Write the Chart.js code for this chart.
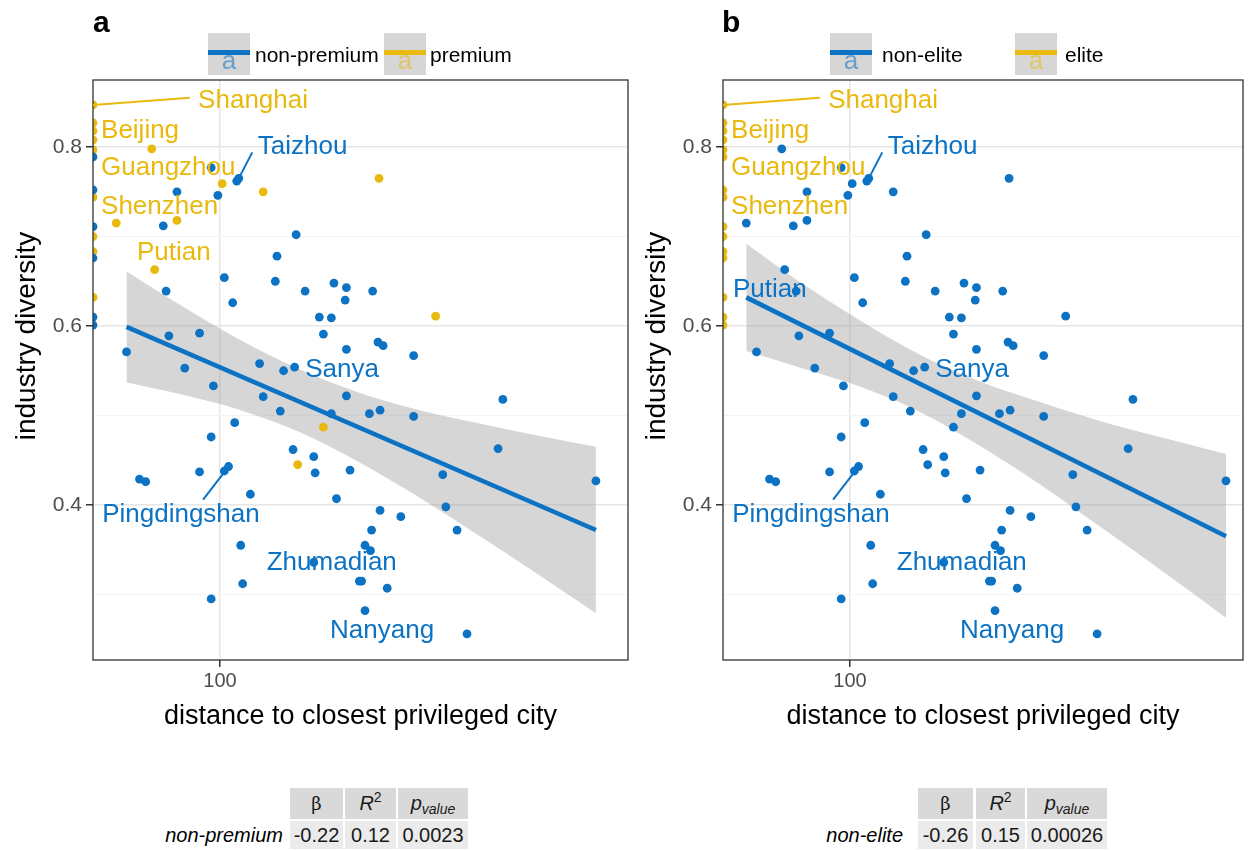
<!DOCTYPE html>
<html>
<head>
<meta charset="utf-8">
<script src="https://cdn.jsdelivr.net/npm/chart.js@4/dist/chart.umd.min.js"></script>
<style>
  body { margin: 0; background: #fff; font-family: "Liberation Sans", Arial, sans-serif; }
  #page { position: relative; width: 1248px; height: 850px; overflow: hidden; }
  canvas { position: absolute; top: 0; }
  .tag { position: absolute; top: 7px; font-weight: bold; font-size: 30px; line-height: 30px; }
  .key { position: absolute; top: 33px; width: 42px; height: 42px; background: #d6d6d6; overflow: hidden; }
  .key .ln { position: absolute; left: 0; right: 0; top: 17px; height: 5px; }
  .key .lt { position: absolute; left: 0; right: 0; top: 14px; text-align: center; font-size: 26px; line-height: 26px; opacity: 0.55; }
  .ktext { position: absolute; top: 43px; font-size: 21px; line-height: 24px; }
  .cell { position: absolute; text-align: center; font-size: 20px; color: #1a1a1a; }
  .cell sup, .cell sub { line-height: 0; font-size: 14px; }
  .cell sup { vertical-align: 8px; }
  .cell sub { vertical-align: -4px; }
  .hd { top: 788px; height: 31px; line-height: 31px; background: #d9d9d9; }
  .rw { top: 821px; height: 28px; line-height: 28px; background: #ebebeb; }
  .rl { position: absolute; top: 821px; height: 28px; line-height: 28px; font-size: 20px; font-style: italic; text-align: right; }
</style>
</head>
<body>
<div id="page">
  <canvas id="chartA" width="640" height="760" style="left:0"></canvas>
  <canvas id="chartB" width="618" height="760" style="left:630px"></canvas>
  <div class="tag" style="left:93px">a</div>
  <div class="tag" style="left:722px">b</div>
</div>
<script>
// ---------- data ----------
// distance to closest privileged city (km); 0 = the privileged city itself
const cityDistance = [
  0, 0, 0, 0, 0, 0, 0, 0, 0, 0, 0, 0, 0, 0, 0,
  73, 96, 101, 108, 109, 208, 82, 99, 122, 62, 77, 82, 142, 130, 74, 102, 129, 78, 148, 169,
  179, 202, 178, 106, 158, 167, 270, 79, 91, 161, 65, 207, 212, 179, 244, 85, 120, 134, 141, 97,
  179, 368, 122, 132, 167, 199, 209, 244, 161, 107, 96, 140, 360, 154, 143, 155, 182, 279, 565, 69,
  71, 91, 102, 104, 115, 171, 209, 230, 283, 298, 201, 110, 195, 200, 154, 111, 190, 192, 216, 96,
  195, 312
];
const cityDiversity = [
  0.847, 0.827, 0.818, 0.808, 0.797, 0.789, 0.752, 0.744, 0.711, 0.700, 0.683, 0.676, 0.632, 0.610, 0.601,
  0.798, 0.777, 0.759, 0.762, 0.765, 0.765, 0.750, 0.746, 0.750, 0.715, 0.712, 0.718, 0.702, 0.678, 0.663, 0.654, 0.650, 0.639, 0.639, 0.648,
  0.643, 0.639, 0.629, 0.626, 0.610, 0.609, 0.611, 0.589, 0.592, 0.591, 0.571, 0.582, 0.578, 0.574, 0.567, 0.553, 0.558, 0.550, 0.554, 0.533,
  0.522, 0.518, 0.521, 0.505, 0.502, 0.502, 0.506, 0.499, 0.487, 0.492, 0.476, 0.462, 0.463, 0.454, 0.445, 0.436, 0.439, 0.434, 0.427, 0.429,
  0.426, 0.437, 0.438, 0.443, 0.412, 0.407, 0.394, 0.387, 0.398, 0.372, 0.372, 0.355, 0.355, 0.349, 0.336, 0.312, 0.315, 0.315, 0.307, 0.295,
  0.282, 0.256
];
const cityPremium = [
  1, 1, 1, 1, 1, 0, 0, 1, 0, 1, 1, 0, 1, 0, 0,
  1, 0, 1, 0, 0, 1, 0, 0, 1, 1, 0, 1, 0, 0, 1, 0, 0, 0, 0, 0,
  0, 0, 0, 0, 0, 0, 1, 0, 0, 0, 0, 0, 0, 0, 0, 0, 0, 0, 0, 0,
  0, 0, 0, 0, 0, 0, 0, 0, 1, 0, 0, 0, 0, 0, 1, 0, 0, 0, 0, 0,
  0, 0, 0, 0, 0, 0, 0, 0, 0, 0, 0, 0, 0, 0, 0, 0, 0, 0, 0, 0,
  0, 0
];

// fitted line and 95% band (panel a: non-premium, panel b: non-elite)
const fitDistA = [65, 565];
const fitValA = [0.599, 0.372];
const bandDistA = [65, 83, 110, 145, 191, 251, 331, 437, 565];
const bandUpA = [0.661, 0.624, 0.584, 0.551, 0.525, 0.506, 0.491, 0.477, 0.465];
const bandLoA = [0.537, 0.524, 0.506, 0.481, 0.447, 0.408, 0.365, 0.321, 0.279];

const fitDistB = [62, 565];
const fitValB = [0.632, 0.365];
const bandDistB = [62, 79, 105, 138, 182, 240, 316, 417, 565];
const bandUpB = [0.692, 0.650, 0.606, 0.568, 0.538, 0.515, 0.494, 0.476, 0.457];
const bandLoB = [0.572, 0.554, 0.532, 0.504, 0.466, 0.423, 0.376, 0.328, 0.274];

// labelled cities
const labelNames = ['Shanghai', 'Beijing', 'Guangzhou', 'Shenzhen', 'Putian', 'Taizhou', 'Sanya', 'Pingdingshan', 'Zhumadian', 'Nanyang'];
const labelPremium = [1, 1, 1, 1, 1, 0, 0, 0, 0, 0];
const labelElite = [1, 1, 1, 1, 0, 0, 0, 0, 0, 0];

const xTicks = [100];
const yTicks = [0.3, 0.4, 0.5, 0.6, 0.7, 0.8];

const statCols = ['<span style="font-family:\'DejaVu Serif\',serif;font-size:18px">β</span>',
                  '<i>R</i><sup>2</sup>', '<i>p</i><sub><i>value</i></sub>'];
const statsA = ['non-premium', '-0.22', '0.12', '0.0023'];
const statsB = ['non-elite', '-0.26', '0.15', '0.00026'];

// ---------- styling ----------
const BLUE = '#0b72c4';
const GOLD = '#e9b90e';
const FONT = '"Liberation Sans", Arial, sans-serif';
const X_MIN = 55.7;
const Y_MIN = 0.2268, Y_MAX = 0.8749;

// where the ggrepel labels sit (distance, diversity of the text's left-middle)
const labelPosA = [[90.4, 0.852], [57.8, 0.818], [57.8, 0.777], [57.8, 0.733], [68.2, 0.682],
                   [119, 0.800], [148, 0.551], [58.1, 0.389], [124, 0.335], [166, 0.259]];
const labelPosB = labelPosA.map((p, i) => labelNames[i] === 'Putian' ? [58.3, 0.640] : p);
const leaders = {
  Shanghai: [[0, 0.847], [87, 0.855]],
  Taizhou: [[109, 0.765], [116, 0.794]],
  Pingdingshan: [[104, 0.443], [92.5, 0.406]]
};

const pts = (flagFn) => cityDistance
  .map((d, i) => ({ x: Math.max(d, X_MIN), y: cityDiversity[i], i }))
  .filter(p => flagFn(p.i));
const xy = (xs, ys) => xs.map((x, i) => ({ x, y: ys[i] }));

const borderPlugin = {
  id: 'panelBorder',
  afterDatasetsDraw(chart) {
    const { ctx, chartArea: a } = chart;
    ctx.save();
    ctx.strokeStyle = '#333';
    ctx.lineWidth = 1.3;
    ctx.strokeRect(a.left, a.top, a.right - a.left, a.bottom - a.top);
    ctx.restore();
  }
};

// y title sits a little above the panel centre in the original
const yTitlePlugin = {
  id: 'yTitle',
  afterDraw(chart) {
    const ctx = chart.ctx;
    ctx.save();
    ctx.translate(27, 336);
    ctx.rotate(-Math.PI / 2);
    ctx.font = '28px ' + FONT;
    ctx.fillStyle = '#000';
    ctx.textAlign = 'center';
    ctx.textBaseline = 'middle';
    ctx.fillText('industry diversity', 0, 0);
    ctx.restore();
  }
};

const labelPlugin = {
  id: 'cityLabels',
  afterDatasetsDraw(chart, args, opts) {
    const { ctx, scales: { x, y } } = chart;
    const px = d => x.getPixelForValue(Math.max(d, X_MIN));
    ctx.save();
    ctx.font = '26px ' + FONT;
    ctx.textAlign = 'left';
    ctx.textBaseline = 'middle';
    labelNames.forEach((name, i) => {
      const col = opts.colors[i] ? GOLD : BLUE;
      const seg = leaders[name];
      if (seg) {
        ctx.strokeStyle = col;
        ctx.lineWidth = 2;
        ctx.beginPath();
        ctx.moveTo(px(seg[0][0]), y.getPixelForValue(seg[0][1]));
        ctx.lineTo(px(seg[1][0]), y.getPixelForValue(seg[1][1]));
        ctx.stroke();
      }
      ctx.fillStyle = col;
      const p = opts.pos[i];
      ctx.fillText(name, px(p[0]), y.getPixelForValue(p[1]));
    });
    ctx.restore();
  }
};

function makePanel(id, o) {
  const isMajor = v => Math.round(v * 10) % 2 === 0;
  return new Chart(document.getElementById(id), {
    type: 'scatter',
    data: {
      datasets: [
        { data: o.blue, backgroundColor: BLUE, pointRadius: 4.4, borderWidth: 0, clip: 0, order: 0 },
        { data: o.gold, backgroundColor: GOLD, pointRadius: 4.4, borderWidth: 0, clip: 0, order: 0 },
        { type: 'line', data: o.fit, borderColor: BLUE, borderWidth: 4.5, pointRadius: 0, fill: false, order: 1 },
        { type: 'line', data: o.up, borderWidth: 0, pointRadius: 0, cubicInterpolationMode: 'monotone',
          fill: '+1', backgroundColor: 'rgba(153,153,153,0.4)', order: 2 },
        { type: 'line', data: o.lo, borderWidth: 0, pointRadius: 0, cubicInterpolationMode: 'monotone',
          fill: false, order: 2 }
      ]
    },
    options: {
      responsive: false,
      devicePixelRatio: 1,
      animation: false,
      events: [],
      layout: { padding: { top: 80, right: o.padRight, left: 0, bottom: 0 } },
      plugins: {
        legend: { display: false },
        tooltip: { enabled: false },
        cityLabels: { pos: o.labelPos, colors: o.labelColors }
      },
      scales: {
        x: {
          type: 'logarithmic',
          min: X_MIN,
          max: o.xMax,
          afterBuildTicks: s => { s.ticks = xTicks.map(v => ({ value: v })); },
          afterFit: s => { s.height = 100; },
          ticks: { callback: v => String(v), color: '#4d4d4d', font: { size: 20, family: FONT },
                   padding: 2, maxRotation: 0, autoSkip: false },
          grid: { color: '#e6e6e6', lineWidth: 1.5, tickColor: '#333', tickLength: 7 },
          border: { display: false },
          title: { display: true, text: 'distance to closest privileged city', color: '#000',
                   font: { size: 27, family: FONT }, padding: { top: 0, bottom: 27 } }
        },
        y: {
          min: Y_MIN,
          max: Y_MAX,
          afterBuildTicks: s => { s.ticks = yTicks.map(v => ({ value: v })); },
          afterFit: s => { s.width = 93; },
          ticks: { callback: v => isMajor(v) ? v.toFixed(1) : '', color: '#4d4d4d',
                   font: { size: 21, family: FONT }, padding: 4, autoSkip: false },
          grid: {
            color: c => isMajor(c.tick.value) ? '#e6e6e6' : '#f3f3f3',
            lineWidth: c => isMajor(c.tick.value) ? 1.5 : 1,
            tickColor: c => isMajor(c.tick.value) ? '#333' : 'rgba(0,0,0,0)',
            tickLength: 7
          },
          border: { display: false },
          title: { display: false }
        }
      }
    },
    plugins: [borderPlugin, labelPlugin, yTitlePlugin]
  });
}

makePanel('chartA', {
  blue: pts(i => !cityPremium[i]),
  gold: pts(i => cityPremium[i]),
  fit: xy(fitDistA, fitValA),
  up: xy(bandDistA, bandUpA),
  lo: xy(bandDistA, bandLoA),
  xMax: 655,
  padRight: 12,
  labelPos: labelPosA,
  labelColors: labelPremium
});

makePanel('chartB', {
  blue: pts(i => cityDistance[i] > 0),
  gold: pts(i => cityDistance[i] === 0),
  fit: xy(fitDistB, fitValB),
  up: xy(bandDistB, bandUpB),
  lo: xy(bandDistB, bandLoB),
  xMax: 611,
  padRight: 5,
  labelPos: labelPosB,
  labelColors: labelElite
});

// ---------- legends and stat tables ----------
const page = document.getElementById('page');
function addEl(cls, html, style) {
  const d = document.createElement('div');
  d.className = cls;
  d.innerHTML = html;
  Object.assign(d.style, style);
  page.appendChild(d);
  return d;
}
function addLegend(items) {
  items.forEach(it => {
    const k = addEl('key', '<div class="lt">a</div><div class="ln"></div>', { left: it.box + 'px' });
    k.querySelector('.ln').style.background = it.color;
    k.querySelector('.lt').style.color = it.color;
    addEl('ktext', it.name, { left: it.text + 'px' });
  });
}
addLegend([
  { name: 'non-premium', color: BLUE, box: 208, text: 255 },
  { name: 'premium', color: GOLD, box: 384, text: 430 },
  { name: 'non-elite', color: BLUE, box: 830, text: 882 },
  { name: 'elite', color: GOLD, box: 1015, text: 1065 }
]);

function addTable(stats, lefts, widths, labelRight) {
  statCols.forEach((h, i) => {
    addEl('cell hd', h, { left: lefts[i] + 'px', width: widths[i] + 'px' });
    addEl('cell rw', stats[i + 1], { left: lefts[i] + 'px', width: widths[i] + 'px' });
  });
  addEl('rl', stats[0], { left: (labelRight - 200) + 'px', width: '200px' });
}
addTable(statsA, [290, 345, 398], [53, 51, 70], 283);
addTable(statsB, [918, 976, 1027], [55, 49, 80], 903);
</script>
</body>
</html>
